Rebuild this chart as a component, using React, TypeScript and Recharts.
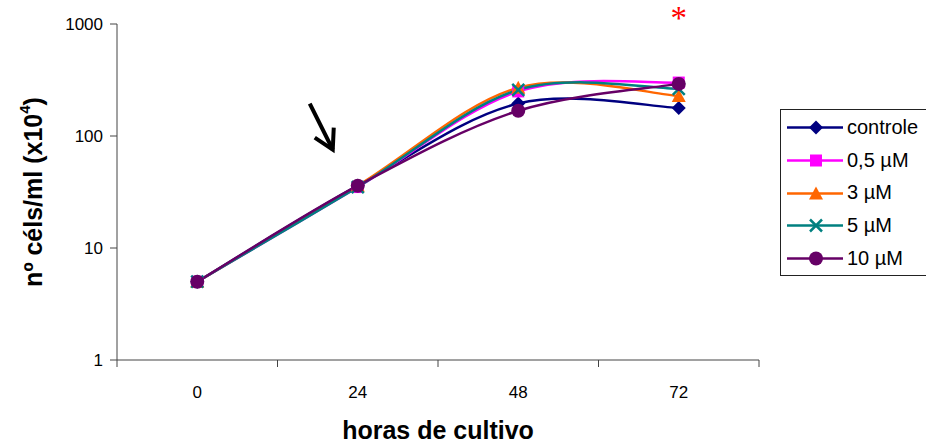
import React from 'react';
import { LineChart, Line, XAxis, YAxis, Legend, ReferenceDot } from 'recharts';

const hours = [0, 24, 48, 72];
const controle = [5, 36, 195, 178];
const uM05 = [5, 35, 250, 300];
const uM3 = [5, 36, 270, 228];
const uM5 = [5, 35, 258, 264];
const uM10 = [5, 36, 168, 292];
const yTicks = [1, 10, 100, 1000];
const xTickLabels = [0, 24, 48, 72];
const xBoundaries = [-12, 12, 36, 60, 84];

const series = [
  { key: 'controle', name: 'controle', color: '#000080', shape: 'diamond', values: controle },
  { key: 'uM05', name: '0,5 µM', color: '#FF00FF', shape: 'square', values: uM05 },
  { key: 'uM3', name: '3 µM', color: '#FF6600', shape: 'triangle', values: uM3 },
  { key: 'uM5', name: '5 µM', color: '#008080', shape: 'cross', values: uM5 },
  { key: 'uM10', name: '10 µM', color: '#660066', shape: 'circle', values: uM10 },
];

const data = hours.map((h, i) => {
  const row: any = { h };
  series.forEach((s) => (row[s.key] = s.values[i]));
  return row;
});

const FONT = 'Arial, "Liberation Sans", sans-serif';

// Excel-like smoothed line (Catmull-Rom as cubic Bezier)
const excelCurve: any = (context: any) => {
  let pts: number[][] = [];
  return {
    areaStart() {},
    areaEnd() {},
    lineStart() {
      pts = [];
    },
    lineEnd() {
      if (!pts.length) return;
      context.moveTo(pts[0][0], pts[0][1]);
      for (let i = 0; i < pts.length - 1; i++) {
        const p0 = pts[i - 1] || pts[i];
        const p1 = pts[i];
        const p2 = pts[i + 1];
        const p3 = pts[i + 2] || pts[i + 1];
        const c1x = p1[0] + (p2[0] - p0[0]) / 6;
        const c1y = p1[1] + (p2[1] - p0[1]) / 6;
        const c2x = p2[0] - (p3[0] - p1[0]) / 6;
        const c2y = p2[1] - (p3[1] - p1[1]) / 6;
        context.bezierCurveTo(c1x, c1y, c2x, c2y, p2[0], p2[1]);
      }
    },
    point(x: number, y: number) {
      pts.push([+x, +y]);
    },
  };
};

function marker(shape: string, cx: number, cy: number, color: string) {
  switch (shape) {
    case 'diamond':
      return <polygon points={`${cx},${cy - 7} ${cx + 7},${cy} ${cx},${cy + 7} ${cx - 7},${cy}`} fill={color} />;
    case 'square':
      return <rect x={cx - 6} y={cy - 6} width={12} height={12} fill={color} />;
    case 'triangle':
      return <polygon points={`${cx},${cy - 7} ${cx + 7},${cy + 6} ${cx - 7},${cy + 6}`} fill={color} />;
    case 'cross':
      return (
        <g stroke={color} strokeWidth={2.5}>
          <line x1={cx - 6} y1={cy - 6} x2={cx + 6} y2={cy + 6} />
          <line x1={cx - 6} y1={cy + 6} x2={cx + 6} y2={cy - 6} />
        </g>
      );
    default:
      return <circle cx={cx} cy={cy} r={7} fill={color} />;
  }
}

const XTick = (props: any) => {
  const { x, y, payload } = props;
  const v = payload.value;
  if (xBoundaries.includes(v)) {
    return <line x1={x} y1={y} x2={x} y2={y + 7} stroke="#444" strokeWidth={1} />;
  }
  return (
    <text x={x} y={y + 32} textAnchor="middle" dominantBaseline="central" fontSize={17} fontFamily={FONT} fill="#000">
      {v}
    </text>
  );
};

const YLabel = (props: any) => {
  const vb = props.viewBox || {};
  const cx = (vb.x || 0) + 33;
  const cy = (vb.y || 0) + (vb.height || 0) / 2;
  return (
    <text
      x={cx}
      y={cy}
      transform={`rotate(-90 ${cx} ${cy})`}
      textAnchor="middle"
      dominantBaseline="central"
      fontSize={25}
      fontWeight="bold"
      fontFamily={FONT}
      fill="#000"
    >
      nº céls/ml (x10
      <tspan dy={-9} fontSize={15}>4</tspan>
      <tspan dy={9}>)</tspan>
    </text>
  );
};

const XLabel = (props: any) => {
  const vb = props.viewBox || {};
  const cx = (vb.x || 0) + (vb.width || 0) / 2;
  const cy = (vb.y || 0) + 70;
  return (
    <text x={cx} y={cy} textAnchor="middle" dominantBaseline="central" fontSize={25} fontWeight="bold" fontFamily={FONT} fill="#000">
      horas de cultivo
    </text>
  );
};

const LegendBox = () => (
  <div
    style={{
      boxSizing: 'border-box',
      width: 150,
      height: 167,
      border: '1px solid #222',
      background: '#fff',
      paddingTop: 1,
      fontFamily: FONT,
      fontSize: 20,
      color: '#000',
    }}
  >
    {series.map((s) => (
      <div key={s.key} style={{ display: 'flex', alignItems: 'center', height: 32.8 }}>
        <svg width={62} height={33} style={{ display: 'block', flex: 'none' }}>
          <line x1={6} y1={16.5} x2={62} y2={16.5} stroke={s.color} strokeWidth={2.5} />
          {marker(s.shape, 35, 16.5, s.color)}
        </svg>
        <span style={{ marginLeft: 4, whiteSpace: 'nowrap' }}>{s.name}</span>
      </div>
    ))}
  </div>
);

const Arrow = (props: any) => {
  const { cx, cy } = props;
  const tx = cx - 25;
  const ty = cy - 36;
  return (
    <g stroke="#000" strokeWidth={4} fill="none" strokeLinecap="butt" strokeLinejoin="miter">
      <line x1={cx - 48} y1={cy - 82} x2={tx} y2={ty} />
      <polyline points={`${tx - 18},${ty - 12} ${tx},${ty} ${tx + 1},${ty - 22}`} />
    </g>
  );
};

const Asterisk = (props: any) => {
  const { cx, cy } = props;
  return (
    <text x={cx} y={cy + 5} textAnchor="middle" fontSize={33} fontFamily='"Liberation Serif", "Times New Roman", serif' fill="#FF0000">
      *
    </text>
  );
};

export default function App() {
  return (
    <div style={{ position: 'absolute', left: 0, top: 0, background: '#fff' }}>
      <LineChart width={926} height={445} data={data} margin={{ top: 24, right: 167, left: 0, bottom: 0 }}>
        <XAxis
          dataKey="h"
          type="number"
          domain={[-12, 84]}
          ticks={[-12, 0, 12, 24, 36, 48, 60, 72, 84]}
          interval={0}
          tickLine={false}
          tickSize={0}
          tickMargin={0}
          tick={<XTick />}
          height={85}
          axisLine={{ stroke: '#444', strokeWidth: 1 }}
          label={<XLabel />}
        />
        <YAxis
          scale="log"
          domain={[1, 1000]}
          ticks={yTicks}
          interval={0}
          allowDataOverflow
          width={117}
          tickSize={7}
          tickMargin={7}
          tickLine={{ stroke: '#444' }}
          axisLine={{ stroke: '#444', strokeWidth: 1 }}
          tick={{ fontSize: 17, fill: '#000', fontFamily: FONT }}
          label={<YLabel />}
        />
        {series.map((s) => (
          <Line
            key={s.key}
            dataKey={s.key}
            name={s.name}
            stroke={s.color}
            strokeWidth={2.5}
            type={excelCurve}
            isAnimationActive={false}
            activeDot={false}
            dot={(p: any) => <g key={`${s.key}-${p.index}`}>{marker(s.shape, p.cx, p.cy, s.color)}</g>}
          />
        ))}
        <ReferenceDot x={24} y={36} r={0} shape={<Arrow />} />
        <ReferenceDot x={72} y={1000} r={0} shape={<Asterisk />} />
        <Legend
          layout="vertical"
          align="center"
          verticalAlign="middle"
          wrapperStyle={{ position: 'absolute', left: 780, top: 109, width: 150, height: 167 }}
          content={<LegendBox />}
        />
      </LineChart>
    </div>
  );
}
